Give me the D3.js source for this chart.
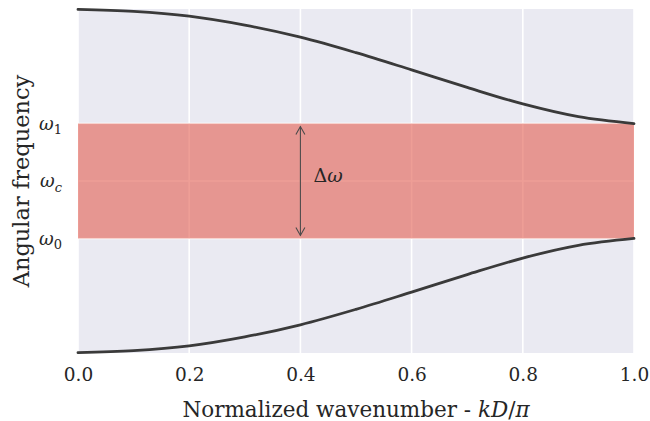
<!DOCTYPE html>
<html>
<head>
<meta charset="utf-8">
<script src="https://cdn.jsdelivr.net/npm/d3@7"></script>
<style>
  html, body { margin: 0; padding: 0; background: #ffffff; }
  svg { display: block; }
  text { font-family: "DejaVu Serif", serif; fill: #262626; }
</style>
</head>
<body>
<svg id="chart" width="650" height="421"></svg>
<script>
// Normalized wavenumber samples kD/π
const wavenumber = [0.0, 0.1, 0.2, 0.3, 0.4, 0.5, 0.6, 0.7, 0.8, 0.9, 1.0];
// Upper (optical-like) branch, in units of the frequency axis
const upperBranch = [0.999, 0.993, 0.979, 0.953, 0.918, 0.873, 0.823, 0.772, 0.724, 0.687, 0.667];
// Lower (acoustic-like) branch
const lowerBranch = [0.001, 0.007, 0.021, 0.047, 0.082, 0.127, 0.177, 0.228, 0.276, 0.313, 0.333];

// Band gap edges and centre
const bandEdges = { omega0: 0.333, omegaC: 0.5, omega1: 0.667 };
const yTickValues = [0.333, 0.5, 0.667];
const yTickSubs = ["0", "c", "1"];
const xTickValues = [0.0, 0.2, 0.4, 0.6, 0.8, 1.0];
const arrowX = 0.4;

const svg = d3.select("#chart");
const m = { left: 78, right: 16, top: 9, bottom: 68 };
const W = 650, H = 421;

const x = d3.scaleLinear().domain([0, 1]).range([m.left, W - m.right]);
const y = d3.scaleLinear().domain([0, 1]).range([H - m.bottom, m.top]);

// Axes background
svg.append("rect")
  .attr("x", x(0)).attr("y", y(1))
  .attr("width", x(1) - x(0)).attr("height", y(0) - y(1))
  .attr("fill", "#EAEAF2");

// Grid
const grid = svg.append("g").attr("stroke", "#ffffff").attr("stroke-width", 1.6);
grid.selectAll("line.vx").data(xTickValues).join("line")
  .attr("x1", d => x(d)).attr("x2", d => x(d))
  .attr("y1", y(1)).attr("y2", y(0));
grid.selectAll("line.hy").data(yTickValues).join("line")
  .attr("x1", x(0)).attr("x2", x(1))
  .attr("y1", d => y(d)).attr("y2", d => y(d));

// Band gap shading
svg.append("rect")
  .attr("x", x(0)).attr("y", y(bandEdges.omega1))
  .attr("width", x(1) - x(0))
  .attr("height", y(bandEdges.omega0) - y(bandEdges.omega1))
  .attr("fill", "#E25E50").attr("fill-opacity", 0.6);

// Dispersion branches
const line = d3.line()
  .x((d, i) => x(wavenumber[i]))
  .y(d => y(d))
  .curve(d3.curveCatmullRom.alpha(0.5));

svg.selectAll("path.branch").data([upperBranch, lowerBranch]).join("path")
  .attr("class", "branch")
  .attr("d", line)
  .attr("fill", "none")
  .attr("stroke", "#3a3a3a")
  .attr("stroke-width", 2.8)
  .attr("stroke-linecap", "round");

// Δω double arrow
const ax = x(arrowX), aTop = y(bandEdges.omega1) + 3, aBot = y(bandEdges.omega0) - 3;
const arrow = svg.append("g").attr("stroke", "#4a4a4a").attr("stroke-width", 1.1).attr("fill", "none");
arrow.append("line").attr("x1", ax).attr("x2", ax).attr("y1", aTop).attr("y2", aBot);
arrow.append("path").attr("d", `M${ax - 4.5},${aTop + 8} L${ax},${aTop} L${ax + 4.5},${aTop + 8}`);
arrow.append("path").attr("d", `M${ax - 4.5},${aBot - 8} L${ax},${aBot} L${ax + 4.5},${aBot - 8}`);

svg.append("text")
  .attr("x", ax + 13).attr("y", y(bandEdges.omegaC) + 1)
  .attr("font-size", 19)
  .html('Δ<tspan font-style="italic">ω</tspan>');

// X axis
const xAxis = svg.append("g")
  .attr("transform", `translate(0,${y(0)})`)
  .call(d3.axisBottom(x).tickValues(xTickValues).tickFormat(d3.format(".1f")).tickSize(0).tickPadding(15));
xAxis.select(".domain").remove();
xAxis.selectAll("text")
  .attr("font-family", "DejaVu Serif, serif")
  .attr("font-size", 18.5)
  .attr("fill", "#262626");

// Y axis with ω labels
const yAxis = svg.append("g")
  .attr("transform", `translate(${x(0)},0)`)
  .call(d3.axisLeft(y).tickValues(yTickValues).tickFormat("").tickSize(0));
yAxis.select(".domain").remove();
yAxis.selectAll(".tick").each(function(d, i) {
  const t = d3.select(this).append("text")
    .attr("x", -16).attr("dy", "0.32em")
    .attr("text-anchor", "end")
    .attr("font-family", "DejaVu Serif, serif")
    .attr("font-size", 18)
    .attr("fill", "#262626");
  t.append("tspan").attr("font-style", "italic").text("ω");
  t.append("tspan")
    .attr("font-size", 13)
    .attr("dy", "0.35em")
    .attr("font-style", yTickSubs[i] === "c" ? "italic" : "normal")
    .text(yTickSubs[i]);
});

// Axis titles
svg.append("text")
  .attr("x", (x(0) + x(1)) / 2).attr("y", 417)
  .attr("text-anchor", "middle")
  .attr("font-size", 21.5)
  .html('Normalized wavenumber - <tspan font-style="italic">kD</tspan>/<tspan font-style="italic">π</tspan>');

svg.append("text")
  .attr("transform", `translate(29,${(y(0) + y(1)) / 2}) rotate(-90)`)
  .attr("text-anchor", "middle")
  .attr("font-size", 22.5)
  .text("Angular frequency");
</script>
</body>
</html>
